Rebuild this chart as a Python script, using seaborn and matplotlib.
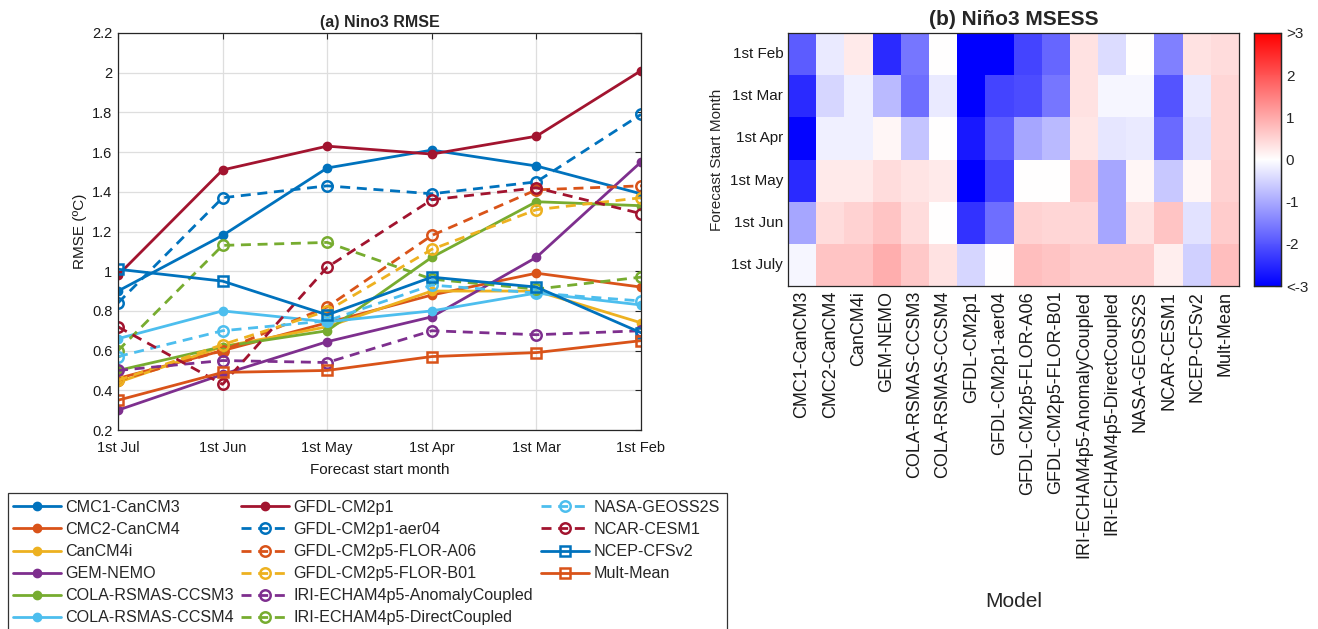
import numpy as np
import pandas as pd
import matplotlib
matplotlib.use("Agg")
import matplotlib.pyplot as plt
from matplotlib.patches import Rectangle
import seaborn as sns

sns.set_theme(style="white")
plt.rcParams["font.family"] = ["Liberation Sans", "DejaVu Sans"]

# ---------------- data ----------------
lead_months = ["1st Jul", "1st Jun", "1st May", "1st Apr", "1st Mar", "1st Feb"]

models = ["CMC1-CanCM3", "CMC2-CanCM4", "CanCM4i", "GEM-NEMO",
          "COLA-RSMAS-CCSM3", "COLA-RSMAS-CCSM4", "GFDL-CM2p1",
          "GFDL-CM2p1-aer04", "GFDL-CM2p5-FLOR-A06", "GFDL-CM2p5-FLOR-B01",
          "IRI-ECHAM4p5-AnomalyCoupled", "IRI-ECHAM4p5-DirectCoupled",
          "NASA-GEOSS2S", "NCAR-CESM1", "NCEP-CFSv2", "Mult-Mean"]

rmse_cmc1 = [0.90, 1.18, 1.52, 1.61, 1.53, 1.39]
rmse_cmc2 = [0.46, 0.60, 0.74, 0.88, 0.99, 0.92]
rmse_cancm4i = [0.44, 0.62, 0.72, 0.90, 0.90, 0.74]
rmse_gem = [0.30, 0.48, 0.645, 0.77, 1.07, 1.55]
rmse_ccsm3 = [0.50, 0.62, 0.70, 1.07, 1.35, 1.33]
rmse_ccsm4 = [0.66, 0.80, 0.745, 0.80, 0.89, 0.83]
rmse_cm2p1 = [0.98, 1.51, 1.63, 1.59, 1.68, 2.01]
rmse_aer04 = [0.84, 1.37, 1.43, 1.39, 1.45, 1.79]
rmse_a06 = [0.45, 0.60, 0.82, 1.18, 1.41, 1.43]
rmse_b01 = [0.45, 0.63, 0.80, 1.11, 1.31, 1.37]
rmse_iri_anom = [0.50, 0.55, 0.54, 0.70, 0.68, 0.70]
rmse_iri_direct = [0.60, 1.13, 1.145, 0.96, 0.91, 0.97]
rmse_nasa = [0.57, 0.70, 0.75, 0.93, 0.89, 0.85]
rmse_ncar = [0.72, 0.43, 1.02, 1.36, 1.42, 1.29]
rmse_ncep = [1.01, 0.95, 0.78, 0.97, 0.92, 0.69]
rmse_mean = [0.35, 0.49, 0.50, 0.57, 0.59, 0.65]

rmse_series = [rmse_cmc1, rmse_cmc2, rmse_cancm4i, rmse_gem, rmse_ccsm3,
               rmse_ccsm4, rmse_cm2p1, rmse_aer04, rmse_a06, rmse_b01,
               rmse_iri_anom, rmse_iri_direct, rmse_nasa, rmse_ncar,
               rmse_ncep, rmse_mean]

start_months = ["1st Feb", "1st Mar", "1st Apr", "1st May", "1st Jun", "1st July"]
msess_feb = [-1.9, -0.25, 0.25, -2.5, -1.6, 0.0, -3.0, -3.0, -2.2, -1.8, 0.35, -0.4, 0.0, -1.5, 0.35, 0.4]
msess_mar = [-2.5, -0.47, -0.18, -0.8, -1.7, -0.25, -3.0, -2.2, -2.1, -1.6, 0.35, -0.1, -0.1, -2.0, -0.25, 0.47]
msess_apr = [-2.95, -0.18, -0.18, 0.1, -0.7, 0.0, -2.7, -1.9, -1.05, -0.8, 0.3, -0.3, -0.25, -1.75, -0.35, 0.47]
msess_may = [-2.5, 0.25, 0.25, 0.4, 0.32, 0.25, -3.0, -2.2, 0.0, 0.0, 0.65, -1.05, 0.1, -0.65, 0.1, 0.53]
msess_jun = [-1.05, 0.4, 0.53, 0.7, 0.4, 0.0, -2.4, -1.7, 0.53, 0.47, 0.47, -1.05, 0.35, 0.7, -0.35, 0.6]
msess_jul = [-0.1, 0.7, 0.7, 0.95, 0.65, 0.35, -0.47, 0.0, 0.76, 0.7, 0.6, 0.6, 0.6, 0.2, -0.55, 0.76]

cbar_ticks = [-3, -2, -1, 0, 1, 2, 3]
cbar_labels = ["<-3", "-2", "-1", "0", "1", "2", ">3"]

# ---------------- styles ----------------
c_blue = "#0072BD"
c_orange = "#D95319"
c_yellow = "#EDB120"
c_purple = "#7E2F8E"
c_green = "#77AC30"
c_lblue = "#4DBEEE"
c_dred = "#A2142F"

styles = [
    (c_blue, "-", "o", True), (c_orange, "-", "o", True),
    (c_yellow, "-", "o", True), (c_purple, "-", "o", True),
    (c_green, "-", "o", True), (c_lblue, "-", "o", True),
    (c_dred, "-", "o", True), (c_blue, "--", "o", False),
    (c_orange, "--", "o", False), (c_yellow, "--", "o", False),
    (c_purple, "--", "o", False), (c_green, "--", "o", False),
    (c_lblue, "--", "o", False), (c_dred, "--", "o", False),
    (c_blue, "-", "s", False), (c_orange, "-", "s", False),
]

W, H = 1318, 629
fig = plt.figure(figsize=(W / 100, H / 100), dpi=100)

# ---------------- (a) line chart ----------------
ax = fig.add_axes([118 / W, 1 - 430 / H, (641 - 118) / W, (430 - 33) / H])
xpos = np.arange(len(lead_months))
handles = []
for name, vals, (col, ls, mk, filled) in zip(models, rmse_series, styles):
    df = pd.DataFrame({"x": xpos, "rmse": vals})
    n_before = len(ax.lines)
    kw = dict(color=col, linewidth=2.0, marker=mk, markeredgecolor=col,
              markeredgewidth=1.8 if not filled else 1.0,
              markersize=6 if filled else 7.5,
              markerfacecolor=col if filled else "none")
    if ls == "--":
        kw["dashes"] = (3.6, 2.4)
    sns.lineplot(data=df, x="x", y="rmse", ax=ax, errorbar=None,
                 label=name, legend=False, **kw)
    handles.append(ax.lines[n_before])

ax.set_xlim(0, 5)
ax.set_ylim(0.2, 2.2)
ax.set_xticks(xpos)
ax.set_xticklabels(lead_months)
ax.set_yticks(np.arange(0.2, 2.21, 0.2))
ax.set_yticklabels(["0.2", "0.4", "0.6", "0.8", "1", "1.2", "1.4", "1.6", "1.8", "2", "2.2"])
ax.grid(True, color="#dedede", linewidth=0.9)
ax.set_axisbelow(True)
for s in ax.spines.values():
    s.set_color("#262626")
    s.set_linewidth(0.9)
ax.tick_params(direction="in", length=4, width=0.8, top=True, right=True,
               labelsize=10.5, colors="#262626", pad=4)
ax.tick_params(axis="x", pad=8)
ax.tick_params(axis="both", labelcolor="#1a1a1a")
ax.set_xlabel("Forecast start month", fontsize=11, color="#1a1a1a", labelpad=6)
ax.set_ylabel("RMSE (ºC)", fontsize=11, color="#1a1a1a", labelpad=4)
ax.set_title("(a) Nino3 RMSE", fontsize=11.5, fontweight="bold", pad=4)

# legend: boxed, three columns of 6, 6 and 4 entries
box = Rectangle((8 / W, -0.02), (727 - 8) / W, 0.02 + 1 - 493 / H,
                transform=fig.transFigure, fill=False, edgecolor="#333333",
                linewidth=0.9)
fig.patches.append(box)
col_groups = [(0, 6, 13), (6, 12, 241), (12, 16, 541)]
for i0, i1, xleft in col_groups:
    fig.legend(handles=handles[i0:i1], labels=models[i0:i1], loc="upper left",
               bbox_to_anchor=(xleft / W, 1 - 500 / H), fontsize=11.6,
               frameon=False, handlelength=3.0, handletextpad=0.25,
               labelspacing=0.44, borderpad=0, borderaxespad=0)

# ---------------- (b) heatmap ----------------
msess = pd.DataFrame([msess_feb, msess_mar, msess_apr, msess_may, msess_jun, msess_jul],
                     index=start_months, columns=models)
hax = fig.add_axes([788 / W, 1 - 286 / H, (1239 - 788) / W, (286 - 33) / H])
cax = fig.add_axes([1254 / W, 1 - 286 / H, 27 / W, (286 - 33) / H])
sns.heatmap(msess, ax=hax, cbar_ax=cax, cmap="bwr", vmin=-3, vmax=3,
            linewidths=0, cbar_kws={"ticks": cbar_ticks})
hax.set_title("(b) Niño3 MSESS", fontsize=15, fontweight="bold", pad=6)
hax.set_xlabel("Model", fontsize=15, labelpad=25)
hax.set_ylabel("Forecast Start Month", fontsize=11)
hax.set_xticklabels(models, rotation=90, fontsize=13)
hax.set_yticklabels(start_months, rotation=0, fontsize=11)
hax.tick_params(direction="in", length=4, width=0.8, top=True, right=True,
                bottom=True, left=True, labeltop=False, labelright=False,
                colors="#262626")
hax.tick_params(axis="both", labelcolor="#1a1a1a")
for s in hax.spines.values():
    s.set_visible(True)
    s.set_color("#262626")
    s.set_linewidth(0.9)
cax.set_yticklabels(cbar_labels, fontsize=11)
cax.tick_params(direction="in", length=4, width=0.8, right=True, colors="#262626")
for s in cax.spines.values():
    s.set_visible(True)
    s.set_color("#262626")
    s.set_linewidth(0.9)

fig.savefig("out.png", dpi=100)
